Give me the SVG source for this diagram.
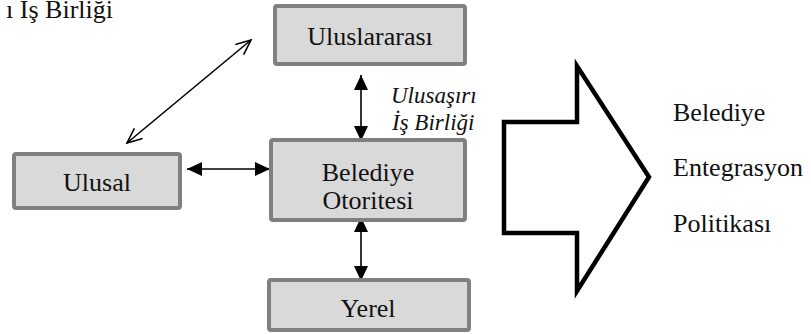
<svg xmlns="http://www.w3.org/2000/svg" width="811" height="334" viewBox="0 0 811 334">
<defs>
<style>
.box{fill:#d9d9d9;stroke:#808080;stroke-width:4}
text{font-family:'Liberation Serif','Times New Roman','DejaVu Serif',serif;fill:#111}
.t{font-size:26px}
.ti{font-size:23px;font-style:italic}
.c{text-anchor:middle}
.ln{stroke:#000;stroke-width:1.6;fill:none}
</style>
<marker id="fa" markerUnits="userSpaceOnUse" markerWidth="16" markerHeight="15" refX="15" refY="7" orient="auto-start-reverse" viewBox="0 0 16 15">
<path d="M0,0 L15,7 L0,14 Z" fill="#000"/>
</marker>
<marker id="oa" markerUnits="userSpaceOnUse" markerWidth="18" markerHeight="16" refX="16" refY="7" orient="auto-start-reverse" viewBox="0 0 18 16">
<path d="M1,0.5 L16,7 L1,13.5" fill="none" stroke="#000" stroke-width="1.6"/>
</marker>
</defs>
<rect width="811" height="334" fill="#fff"/>
<text class="t" x="113" y="18" text-anchor="end" font-family="Liberation Serif, serif">ı İş Birliği</text>
<g id="connectors">
<line class="ln" x1="127" y1="143" x2="251" y2="40" marker-start="url(#oa)" marker-end="url(#oa)"/>
<line class="ln" x1="187" y1="169" x2="270" y2="169" marker-start="url(#fa)" marker-end="url(#fa)"/>
<line class="ln" x1="361" y1="75" x2="361" y2="141" marker-start="url(#fa)" marker-end="url(#fa)"/>
<line class="ln" x1="361" y1="217" x2="361" y2="281" marker-start="url(#fa)" marker-end="url(#fa)"/>
<text class="ti" x="391" y="103" font-family="Liberation Serif, serif">Ulusaşırı</text>
<text class="ti" x="392" y="130" font-family="Liberation Serif, serif">İş Birliği</text>
</g>
<g id="uluslararasi">
<rect class="box" x="275" y="6" width="190" height="58" rx="2"/>
<text class="t c" x="370" y="45" font-family="Liberation Serif, serif">Uluslararası</text>
</g>
<g id="ulusal">
<rect class="box" x="14" y="154" width="166" height="54" rx="2"/>
<text class="t c" x="97" y="191" font-family="Liberation Serif, serif">Ulusal</text>
</g>
<g id="belediye">
<rect class="box" x="271" y="140" width="194" height="80" rx="2"/>
<text class="t c" x="368" y="181" font-family="Liberation Serif, serif">Belediye</text>
<text class="t c" x="368" y="209" font-family="Liberation Serif, serif">Otoritesi</text>
</g>
<g id="yerel">
<rect class="box" x="269" y="280" width="200" height="50" rx="2"/>
<text class="t c" x="368" y="317" font-family="Liberation Serif, serif">Yerel</text>
</g>
<g id="policy">
<path d="M504,122 L577,122 L577,66 L649,177 L577,291 L577,233 L504,233 Z" fill="#fff" stroke="#000" stroke-width="4.5"/>
<text class="t" x="673" y="121" font-family="Liberation Serif, serif">Belediye</text>
<text class="t" x="673" y="176" font-family="Liberation Serif, serif">Entegrasyon</text>
<text class="t" x="673" y="232" font-family="Liberation Serif, serif">Politikası</text>
</g>
</svg>
